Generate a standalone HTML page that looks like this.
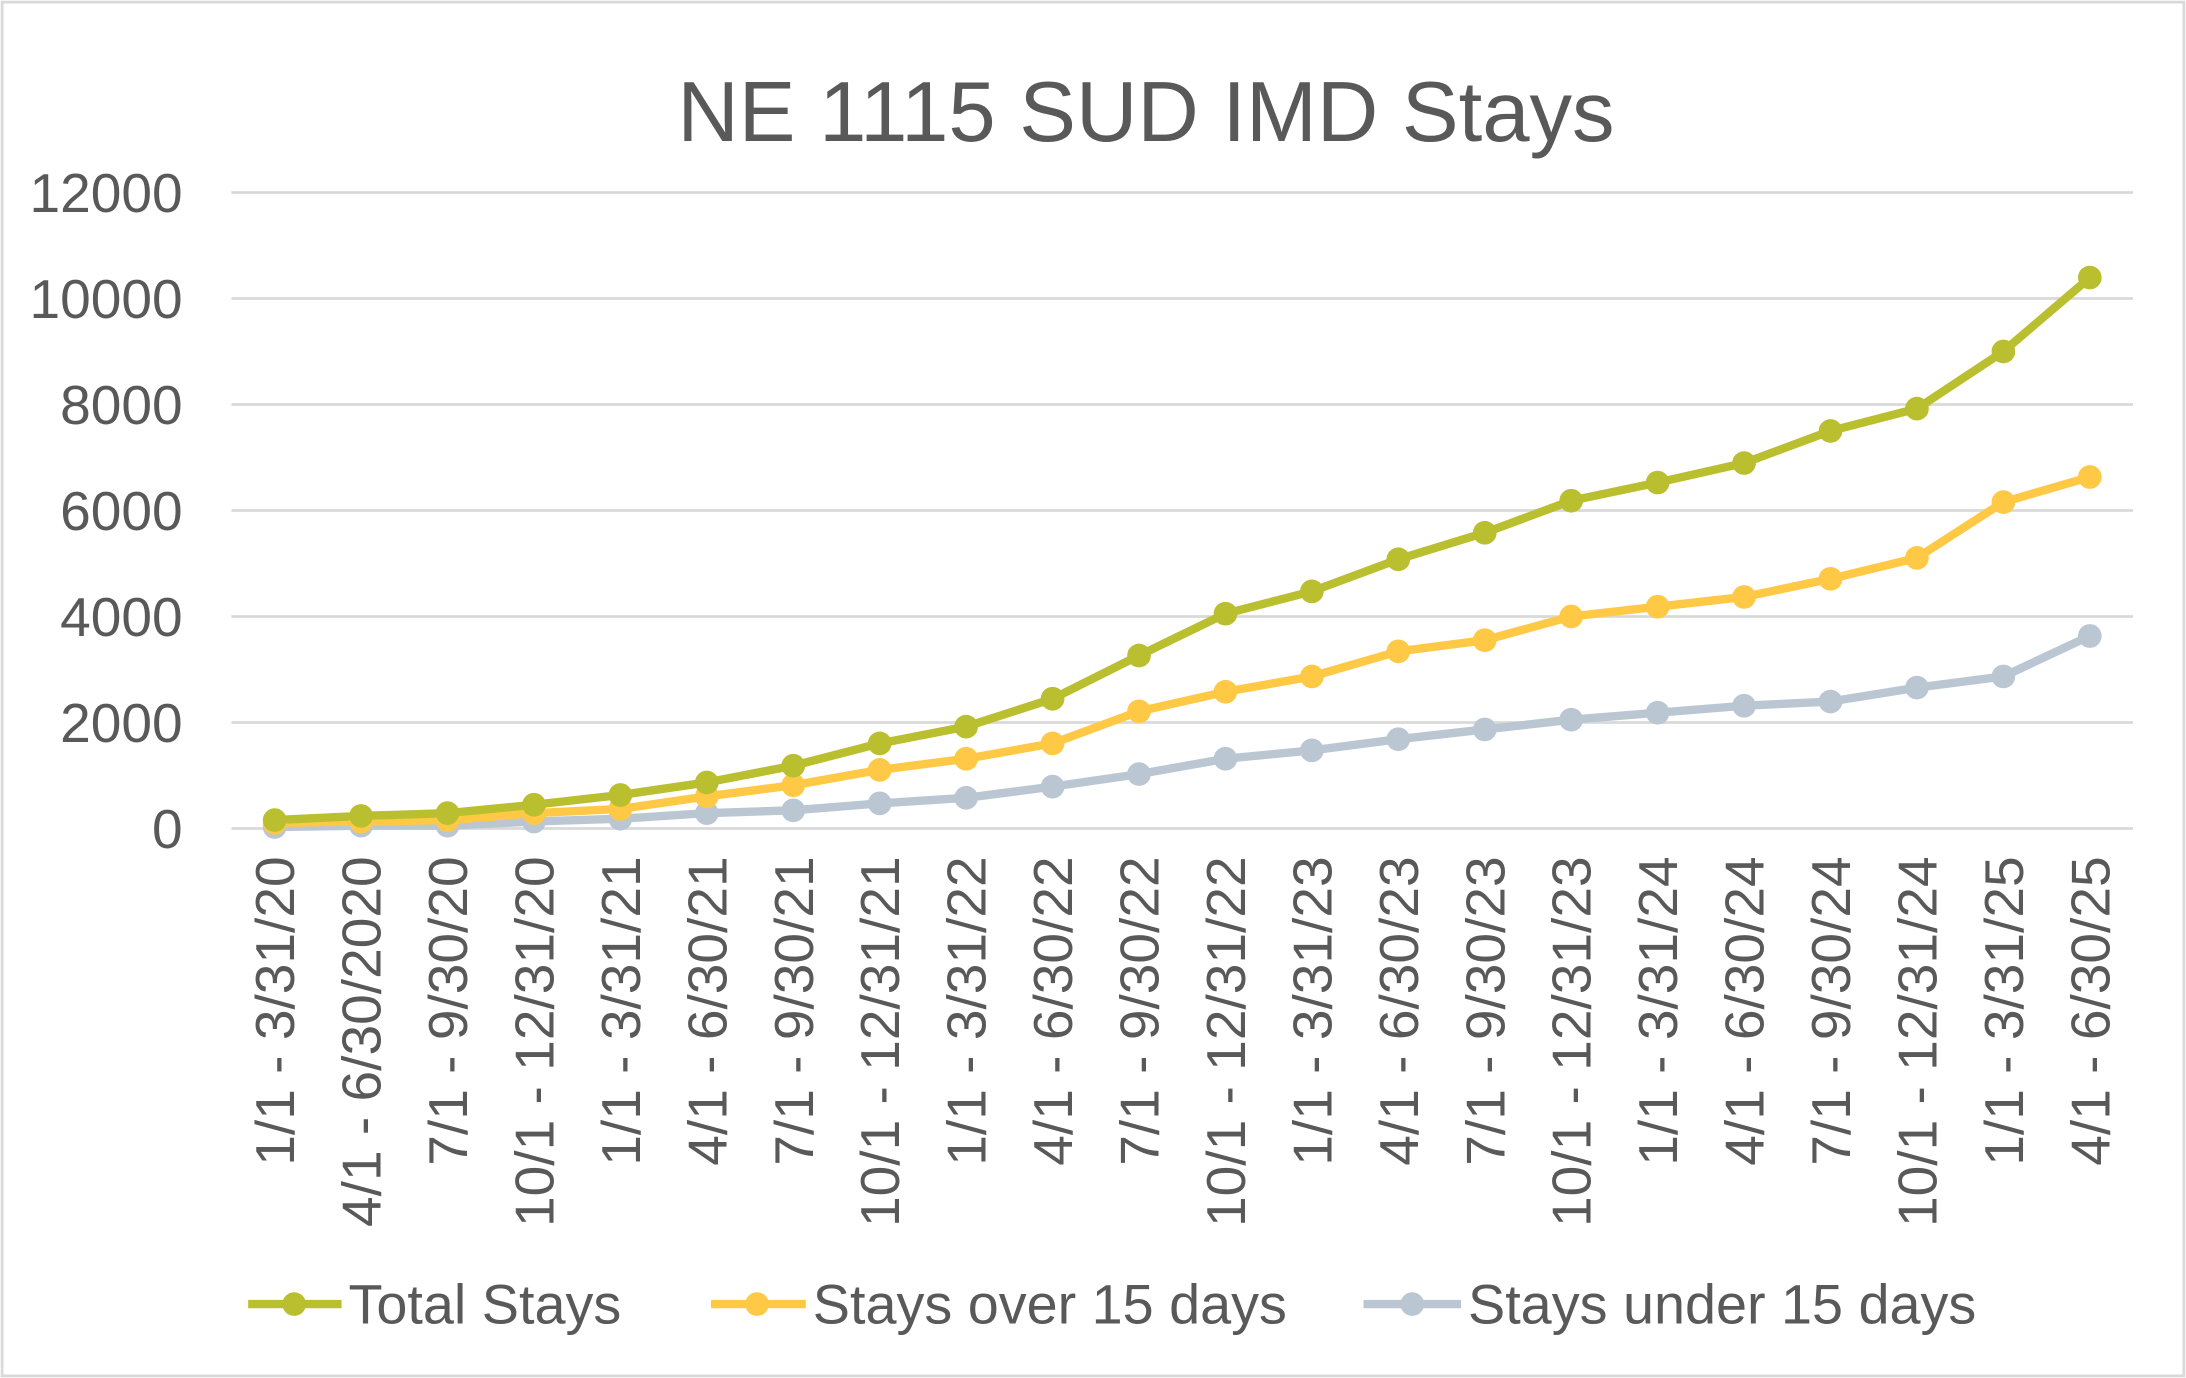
<!DOCTYPE html>
<html><head><meta charset="utf-8"><style>html,body{margin:0;padding:0;background:#fff}svg{display:block}</style></head>
<body>
<svg width="2186" height="1378" viewBox="0 0 1568 988" preserveAspectRatio="none" xmlns="http://www.w3.org/2000/svg" font-family="'Liberation Sans', Arial, sans-serif">
<rect x="1.5" y="1.5" width="1565" height="985" fill="#fff" stroke="#d9d9d9" stroke-width="2"/>
<text x="822" y="101" font-size="61" fill="#595959" text-anchor="middle">NE 1115 SUD IMD Stays</text>
<g stroke="#d9d9d9" stroke-width="2">
<line x1="166" y1="138" x2="1530" y2="138"/><line x1="166" y1="214" x2="1530" y2="214"/><line x1="166" y1="290" x2="1530" y2="290"/><line x1="166" y1="366" x2="1530" y2="366"/><line x1="166" y1="442" x2="1530" y2="442"/><line x1="166" y1="518" x2="1530" y2="518"/><line x1="166" y1="594" x2="1530" y2="594"/>
</g>
<g font-size="39.5" fill="#595959" text-anchor="end">
<text x="131" y="152">12000</text><text x="131" y="228">10000</text><text x="131" y="304">8000</text><text x="131" y="380">6000</text><text x="131" y="456">4000</text><text x="131" y="532">2000</text><text x="131" y="608">0</text>
</g>
<g font-size="39.5" fill="#595959" text-anchor="end">
<text transform="translate(211,614) rotate(-90)">1/1 - 3/31/20</text>
<text transform="translate(273,614) rotate(-90)">4/1 - 6/30/2020</text>
<text transform="translate(335,614) rotate(-90)">7/1 - 9/30/20</text>
<text transform="translate(397,614) rotate(-90)">10/1 - 12/31/20</text>
<text transform="translate(459,614) rotate(-90)">1/1 - 3/31/21</text>
<text transform="translate(521,614) rotate(-90)">4/1 - 6/30/21</text>
<text transform="translate(583,614) rotate(-90)">7/1 - 9/30/21</text>
<text transform="translate(645,614) rotate(-90)">10/1 - 12/31/21</text>
<text transform="translate(707,614) rotate(-90)">1/1 - 3/31/22</text>
<text transform="translate(769,614) rotate(-90)">4/1 - 6/30/22</text>
<text transform="translate(831,614) rotate(-90)">7/1 - 9/30/22</text>
<text transform="translate(893,614) rotate(-90)">10/1 - 12/31/22</text>
<text transform="translate(955,614) rotate(-90)">1/1 - 3/31/23</text>
<text transform="translate(1017,614) rotate(-90)">4/1 - 6/30/23</text>
<text transform="translate(1079,614) rotate(-90)">7/1 - 9/30/23</text>
<text transform="translate(1141,614) rotate(-90)">10/1 - 12/31/23</text>
<text transform="translate(1203,614) rotate(-90)">1/1 - 3/31/24</text>
<text transform="translate(1265,614) rotate(-90)">4/1 - 6/30/24</text>
<text transform="translate(1327,614) rotate(-90)">7/1 - 9/30/24</text>
<text transform="translate(1389,614) rotate(-90)">10/1 - 12/31/24</text>
<text transform="translate(1451,614) rotate(-90)">1/1 - 3/31/25</text>
<text transform="translate(1513,614) rotate(-90)">4/1 - 6/30/25</text>
</g>
<g fill="none" stroke-width="6" stroke-linejoin="round">
<polyline stroke="#BBC6D3" points="197,593 259,592 321,592 383,589 445,587 507,583 569,581 631,576 693,572 755,564 817,555 879,544 941,538 1003,530 1065,523 1127,516 1189,511 1251,506 1313,503 1375,493 1437,485 1499,456"/>
<polyline stroke="#FFC845" points="197,590 259,589 321,588 383,583 445,580 507,571 569,563 631,552 693,544 755,533 817,510 879,496 941,485 1003,467 1065,459 1127,442 1189,435 1251,428 1313,415 1375,400 1437,360 1499,342"/>
<polyline stroke="#BABF30" points="197,588 259,585 321,583 383,577 445,570 507,561 569,549 631,533 693,521 755,501 817,470 879,440 941,424 1003,401 1065,382 1127,359 1189,346 1251,332 1313,309 1375,293 1437,252 1499,199"/>
</g>
<g fill="#BBC6D3"><circle cx="197" cy="593" r="8.5"/><circle cx="259" cy="592" r="8.5"/><circle cx="321" cy="592" r="8.5"/><circle cx="383" cy="589" r="8.5"/><circle cx="445" cy="587" r="8.5"/><circle cx="507" cy="583" r="8.5"/><circle cx="569" cy="581" r="8.5"/><circle cx="631" cy="576" r="8.5"/><circle cx="693" cy="572" r="8.5"/><circle cx="755" cy="564" r="8.5"/><circle cx="817" cy="555" r="8.5"/><circle cx="879" cy="544" r="8.5"/><circle cx="941" cy="538" r="8.5"/><circle cx="1003" cy="530" r="8.5"/><circle cx="1065" cy="523" r="8.5"/><circle cx="1127" cy="516" r="8.5"/><circle cx="1189" cy="511" r="8.5"/><circle cx="1251" cy="506" r="8.5"/><circle cx="1313" cy="503" r="8.5"/><circle cx="1375" cy="493" r="8.5"/><circle cx="1437" cy="485" r="8.5"/><circle cx="1499" cy="456" r="8.5"/></g>
<g fill="#FFC845"><circle cx="197" cy="590" r="8.5"/><circle cx="259" cy="589" r="8.5"/><circle cx="321" cy="588" r="8.5"/><circle cx="383" cy="583" r="8.5"/><circle cx="445" cy="580" r="8.5"/><circle cx="507" cy="571" r="8.5"/><circle cx="569" cy="563" r="8.5"/><circle cx="631" cy="552" r="8.5"/><circle cx="693" cy="544" r="8.5"/><circle cx="755" cy="533" r="8.5"/><circle cx="817" cy="510" r="8.5"/><circle cx="879" cy="496" r="8.5"/><circle cx="941" cy="485" r="8.5"/><circle cx="1003" cy="467" r="8.5"/><circle cx="1065" cy="459" r="8.5"/><circle cx="1127" cy="442" r="8.5"/><circle cx="1189" cy="435" r="8.5"/><circle cx="1251" cy="428" r="8.5"/><circle cx="1313" cy="415" r="8.5"/><circle cx="1375" cy="400" r="8.5"/><circle cx="1437" cy="360" r="8.5"/><circle cx="1499" cy="342" r="8.5"/></g>
<g fill="#BABF30"><circle cx="197" cy="588" r="8.5"/><circle cx="259" cy="585" r="8.5"/><circle cx="321" cy="583" r="8.5"/><circle cx="383" cy="577" r="8.5"/><circle cx="445" cy="570" r="8.5"/><circle cx="507" cy="561" r="8.5"/><circle cx="569" cy="549" r="8.5"/><circle cx="631" cy="533" r="8.5"/><circle cx="693" cy="521" r="8.5"/><circle cx="755" cy="501" r="8.5"/><circle cx="817" cy="470" r="8.5"/><circle cx="879" cy="440" r="8.5"/><circle cx="941" cy="424" r="8.5"/><circle cx="1003" cy="401" r="8.5"/><circle cx="1065" cy="382" r="8.5"/><circle cx="1127" cy="359" r="8.5"/><circle cx="1189" cy="346" r="8.5"/><circle cx="1251" cy="332" r="8.5"/><circle cx="1313" cy="309" r="8.5"/><circle cx="1375" cy="293" r="8.5"/><circle cx="1437" cy="252" r="8.5"/><circle cx="1499" cy="199" r="8.5"/></g>
<g font-size="40" fill="#595959">
<line x1="178" y1="935" x2="245" y2="935" stroke="#BABF30" stroke-width="6"/><circle cx="211" cy="935" r="8.5" fill="#BABF30"/><text x="250" y="949">Total Stays</text>
<line x1="510" y1="935" x2="578" y2="935" stroke="#FFC845" stroke-width="6"/><circle cx="543" cy="935" r="8.5" fill="#FFC845"/><text x="583" y="949">Stays over 15 days</text>
<line x1="978" y1="935" x2="1048" y2="935" stroke="#BBC6D3" stroke-width="6"/><circle cx="1013" cy="935" r="8.5" fill="#BBC6D3"/><text x="1053" y="949">Stays under 15 days</text>
</g>
</svg>
</body></html>
